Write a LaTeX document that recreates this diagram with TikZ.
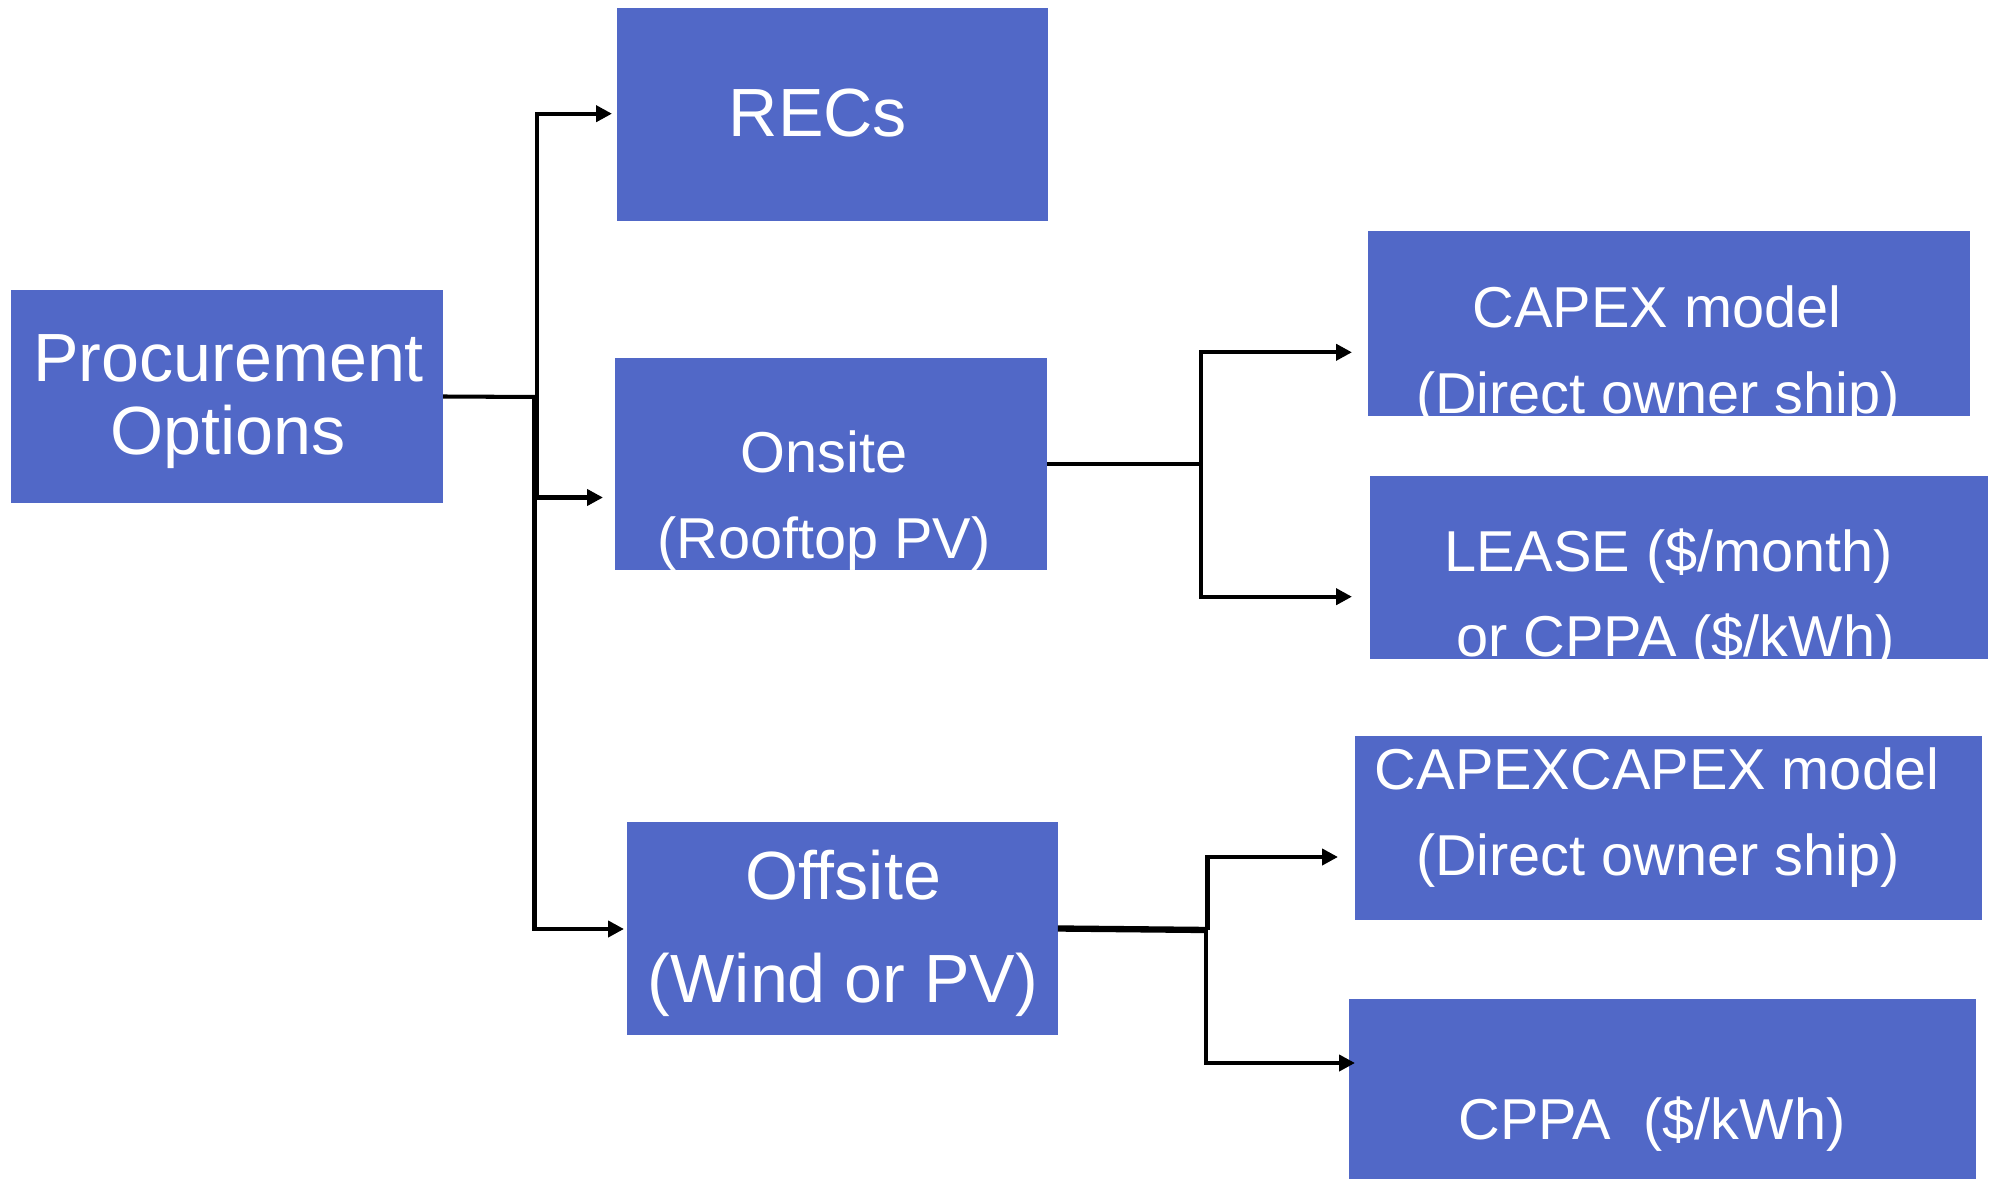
\documentclass[tikz,border=0pt]{standalone}
\usepackage{fontspec}
\setmainfont{Liberation Sans}
\usetikzlibrary{arrows.meta}

\definecolor{boxblue}{RGB}{81,104,199}

\tikzset{
  optbox/.style={fill=boxblue, draw=none, inner sep=0pt, outer sep=0pt},
  optlabel/.style={text=white, anchor=base, inner sep=0pt},
  bigtext/.style={font=\fontsize{19.4}{23}\selectfont},
  midtext/.style={font=\fontsize{16.4}{20}\selectfont},
  link/.style={line width=1.15pt, black},
  linkarrow/.style={link, -{Triangle[length=4.5pt,width=4.5pt]}}
}

\begin{document}
\begin{tikzpicture}[x=0.01cm, y=-0.01cm]
      \useasboundingbox (0,0) rectangle (1993,1179);

      % boxes
      \node[optbox, minimum width=4.32cm, minimum height=2.13cm] (proc) at (227,396.5) {};
      \node[optbox, minimum width=4.31cm, minimum height=2.13cm] (recs) at (832.5,114.7) {};
      \node[optbox, minimum width=4.32cm, minimum height=2.12cm] (onsite) at (831,464) {};
      \node[optbox, minimum width=4.31cm, minimum height=2.13cm] (offsite) at (842.3,928.5) {};
      \node[optbox, minimum width=6.02cm, minimum height=1.84cm] (capex) at (1669,323.5) {};
      \node[optbox, minimum width=6.18cm, minimum height=1.83cm] (lease) at (1679,567.5) {};
      \node[optbox, minimum width=6.27cm, minimum height=1.84cm] (capexoff) at (1668.5,828) {};
      \node[optbox, minimum width=6.27cm, minimum height=1.80cm] (cppa) at (1662.5,1089) {};

      % labels, one line each
      \node[optlabel, bigtext] (procA) at (228.7,381) {Procurement};
      \node[optlabel, bigtext] (procB) at (228,455) {Options};
      \node[optlabel, bigtext] (recsA) at (818,137) {RECs};
      \node[optlabel, midtext] (onsiteA) at (824,472.6) {Onsite};
      \node[optlabel, midtext] (onsiteB) at (824,558.7) {(Rooftop PV)};
      \node[optlabel, midtext] (capexA) at (1657,327.3) {CAPEX model};
      \node[optlabel, midtext] (capexB) at (1658,413) {(Direct owner ship)};
      \node[optlabel, midtext] (leaseA) at (1668.5,571) {LEASE (\$/month)};
      \node[optlabel, midtext] (leaseB) at (1675.5,656.7) {or CPPA (\$/kWh)};
      \node[optlabel, bigtext] (offsiteA) at (843,899.3) {Offsite};
      \node[optlabel, bigtext] (offsiteB) at (843,1002.7) {(Wind or PV)};
      \node[optlabel, midtext] (capexoffA) at (1657,789.3) {CAPEXCAPEX model};
      \node[optlabel, midtext] (capexoffB) at (1658,875) {(Direct owner ship)};
      \node[optlabel, midtext] (cppaA) at (1652,1139) {CPPA\ \ (\$/kWh)};

      % junctions and arrow ends
      \coordinate (trunk) at (537,397);
      \coordinate (trunklow) at (534.5,397);
      \coordinate (recsIn) at (612,113.7);
      \coordinate (onsiteIn) at (603,497.5);
      \coordinate (offsiteIn) at (624,929);
      \coordinate (forkOn) at (1201,464);
      \coordinate (capexIn) at (1352,352.3);
      \coordinate (leaseIn) at (1352,596.7);
      \coordinate (forkOff) at (1207.5,930);
      \coordinate (forkOffLow) at (1205.6,930);
      \coordinate (capexoffIn) at (1338,857);
      \coordinate (cppaIn) at (1355,1063);

      % tree from the left box
      \draw[link] (proc.east) -- (trunk);
      \draw[linkarrow] (trunk) |- (recsIn);
      \draw[linkarrow] (trunk) |- (onsiteIn);
      \draw[linkarrow] (trunklow) |- (offsiteIn);

      % onsite branches
      \draw[link] (onsite.east) -- (forkOn);
      \draw[linkarrow] (forkOn) |- (capexIn);
      \draw[linkarrow] (forkOn) |- (leaseIn);

      % offsite branches
      \draw[link, line width=1.8pt] (offsite.east) -- (forkOff);
      \draw[linkarrow] (forkOff) |- (capexoffIn);
      \draw[linkarrow] (forkOffLow) |- (cppaIn);

    \end{tikzpicture}
\end{document}
